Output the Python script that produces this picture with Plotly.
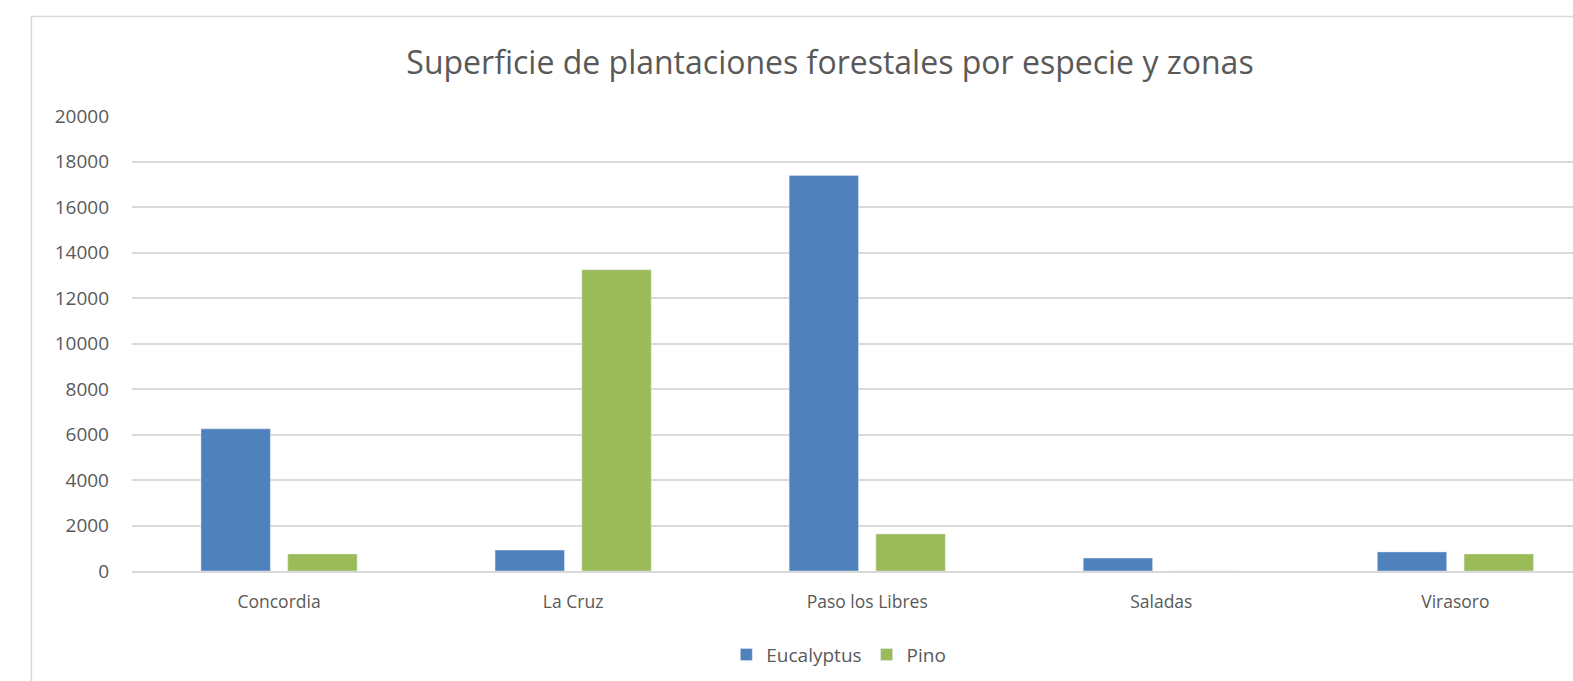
import plotly.graph_objects as go

zonas = ["Concordia", "La Cruz", "Paso los Libres", "Saladas", "Virasoro"]
eucalyptus = [6250, 920, 17390, 570, 840]
pino = [750, 13240, 1630, 0, 750]

grey_text = "#595959"
grid = "#d9d9d9"

fig = go.Figure()
fig.add_trace(go.Bar(x=zonas, y=eucalyptus, name="Eucalyptus", marker_color="#4f81bd"))
fig.add_trace(go.Bar(x=zonas, y=pino, name="Pino", marker_color="#9bbb59"))

# chart border (cut off on the right and bottom in the original screenshot)
fig.add_shape(type="rect", xref="paper", yref="paper",
              x0=-0.0698, x1=1.05, y0=-0.3, y1=1.2185,
              line=dict(color="#d9d9d9", width=1.5), fillcolor="rgba(0,0,0,0)", layer="below")

fig.update_layout(
    width=1573, height=681,
    margin=dict(l=132, r=0, t=116, b=110),
    paper_bgcolor="white", plot_bgcolor="white",
    font=dict(family="Open Sans", color=grey_text),
    title=dict(text="Superficie de plantaciones forestales por especie y zonas",
               x=830 / 1573, xref="container", xanchor="center",
               y=1 - 63 / 681, yref="container", yanchor="middle",
               font=dict(size=32, color=grey_text)),
    barmode="group", bargap=0.41, bargroupgap=0.2,
    legend=dict(orientation="h", x=0.4905, xanchor="center", y=-0.184, yanchor="middle",
                font=dict(size=19, color=grey_text), itemwidth=30),
    showlegend=True,
)
fig.update_xaxes(range=[-0.5, 4.40], showgrid=False, showline=True, linecolor=grid, linewidth=1.5,
                 ticks="", tickfont=dict(size=17.5, color=grey_text), ticklabelstandoff=14)
fig.update_yaxes(range=[0, 20000], dtick=2000, tickformat="d", showgrid=True, gridcolor=grid, gridwidth=1.5,
                 zeroline=False, showline=False, ticks="",
                 tickfont=dict(size=19, color=grey_text), ticklabelstandoff=22)

# drop the default body margin so the figure fills the window exactly
fig.write_html("out.html", config={"displayModeBar": False},
               post_script="document.body.style.margin='0';document.body.style.overflow='hidden';")
